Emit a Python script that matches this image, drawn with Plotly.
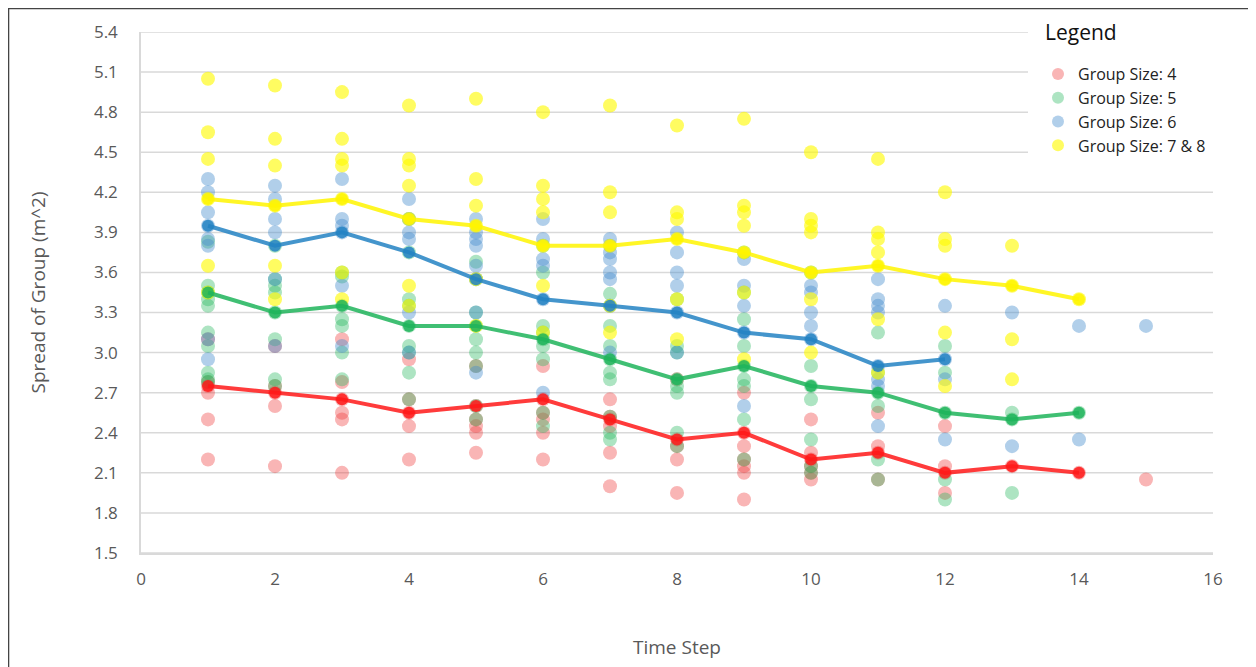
import plotly.graph_objects as go

# ---------------- data ----------------
time_steps = list(range(1, 16))

# scatter values per time step (index 0 -> time step 1)
red_pts = [
    [3.1, 2.78, 2.75, 2.7, 2.5, 2.2],
    [3.05, 2.75, 2.7, 2.6, 2.15],
    [3.1, 2.78, 2.65, 2.55, 2.5, 2.1],
    [2.95, 2.65, 2.55, 2.45, 2.2],
    [2.9, 2.6, 2.5, 2.45, 2.4, 2.25],
    [2.9, 2.65, 2.55, 2.5, 2.4, 2.2],
    [2.65, 2.52, 2.5, 2.45, 2.25, 2.0],
    [2.8, 2.35, 2.3, 2.2, 1.95],
    [2.7, 2.4, 2.3, 2.2, 2.15, 2.1, 1.9],
    [2.5, 2.25, 2.2, 2.15, 2.1, 2.05],
    [2.55, 2.3, 2.25, 2.05],
    [2.45, 2.15, 2.1, 1.95],
    [2.15],
    [2.1],
    [2.05],
]
green_pts = [
    [3.83, 3.5, 3.45, 3.4, 3.35, 3.15, 3.05, 2.85, 2.8, 2.78],
    [3.8, 3.55, 3.5, 3.45, 3.3, 3.1, 2.8, 2.75],
    [3.6, 3.57, 3.35, 3.25, 3.2, 3.0, 2.8],
    [4.0, 3.75, 3.4, 3.35, 3.2, 3.05, 3.0, 2.85, 2.65],
    [3.68, 3.55, 3.3, 3.2, 3.1, 3.0, 2.9, 2.6, 2.5],
    [3.8, 3.6, 3.2, 3.15, 3.1, 3.05, 2.95, 2.55, 2.45],
    [3.44, 3.35, 3.2, 3.05, 2.95, 2.85, 2.8, 2.52, 2.4, 2.35],
    [3.4, 3.05, 3.0, 2.8, 2.75, 2.7, 2.4, 2.3],
    [3.75, 3.45, 3.25, 3.05, 2.9, 2.8, 2.75, 2.5, 2.2],
    [3.6, 2.9, 2.75, 2.65, 2.35, 2.15, 2.1],
    [3.15, 2.85, 2.7, 2.6, 2.2, 2.05],
    [3.05, 2.85, 2.55, 2.05, 1.9],
    [2.55, 2.5, 1.95],
    [2.55],
    [],
]
blue_pts = [
    [4.3, 4.2, 4.05, 3.95, 3.85, 3.8, 3.1, 2.95],
    [4.25, 4.15, 4.0, 3.9, 3.55, 3.05],
    [4.3, 4.0, 3.95, 3.9, 3.5, 3.05],
    [4.15, 4.0, 3.9, 3.85, 3.3, 3.0],
    [4.0, 3.9, 3.85, 3.8, 3.65, 3.55, 3.3, 2.85],
    [4.0, 3.85, 3.7, 3.65, 3.4, 2.7],
    [3.85, 3.8, 3.75, 3.7, 3.6, 3.55, 3.35, 3.0],
    [3.9, 3.75, 3.6, 3.5, 3.3, 3.0],
    [3.7, 3.5, 3.35, 3.15, 2.6],
    [3.5, 3.45, 3.3, 3.2, 3.1],
    [3.55, 3.4, 3.35, 3.3, 2.9, 2.8, 2.75, 2.45],
    [3.35, 2.95, 2.8, 2.35],
    [3.3, 2.3],
    [3.2, 2.35],
    [3.2],
]
yellow_pts = [
    [5.05, 4.65, 4.45, 4.15, 3.65, 3.45],
    [5.0, 4.6, 4.4, 4.1, 3.65, 3.4],
    [4.95, 4.6, 4.45, 4.4, 4.15, 3.6, 3.4],
    [4.85, 4.45, 4.4, 4.25, 4.0, 3.5, 3.35],
    [4.9, 4.3, 4.1, 3.95, 3.55, 3.2],
    [4.8, 4.25, 4.15, 4.05, 3.8, 3.5, 3.15],
    [4.85, 4.2, 4.05, 3.8, 3.35, 3.15],
    [4.7, 4.05, 4.0, 3.85, 3.4, 3.1],
    [4.75, 4.1, 4.05, 3.95, 3.75, 3.45, 2.95],
    [4.5, 4.0, 3.95, 3.9, 3.6, 3.4, 3.0],
    [4.45, 3.9, 3.85, 3.75, 3.65, 3.25, 2.85],
    [4.2, 3.85, 3.8, 3.55, 3.15, 2.75],
    [3.8, 3.5, 3.1, 2.8],
    [3.4],
    [],
]

# mean lines
red_mean = [2.75, 2.7, 2.65, 2.55, 2.6, 2.65, 2.5, 2.35, 2.4, 2.2, 2.25, 2.1, 2.15, 2.1]
green_mean = [3.45, 3.3, 3.35, 3.2, 3.2, 3.1, 2.95, 2.8, 2.9, 2.75, 2.7, 2.55, 2.5, 2.55]
blue_mean = [3.95, 3.8, 3.9, 3.75, 3.55, 3.4, 3.35, 3.3, 3.15, 3.1, 2.9, 2.95]
yellow_mean = [4.15, 4.1, 4.15, 4.0, 3.95, 3.8, 3.8, 3.85, 3.75, 3.6, 3.65, 3.55, 3.5, 3.4]

series_names = ["Group Size: 4", "Group Size: 5", "Group Size: 6", "Group Size: 7 & 8"]
x_ticks = [0, 2, 4, 6, 8, 10, 12, 14, 16]
y_ticks = [1.5, 1.8, 2.1, 2.4, 2.7, 3.0, 3.3, 3.6, 3.9, 4.2, 4.5, 4.8, 5.1, 5.4]

# ---------------- figure ----------------
def flatten(pts):
    xs, ys = [], []
    for t, vals in zip(time_steps, pts):
        for v in vals:
            xs.append(t)
            ys.append(v)
    return xs, ys

point_colors = ["rgba(240,60,60,0.38)", "rgba(40,185,95,0.38)",
                "rgba(70,140,205,0.42)", "rgba(255,250,0,0.62)"]
line_colors = ["rgba(255,25,25,0.85)", "rgba(30,180,90,0.85)",
               "rgba(35,130,195,0.85)", "rgba(255,245,0,0.85)"]

fig = go.Figure()
for name, pts, pc in zip(series_names, [red_pts, green_pts, blue_pts, yellow_pts], point_colors):
    xs, ys = flatten(pts)
    fig.add_trace(go.Scatter(x=xs, y=ys, mode="markers", name=name,
                             marker=dict(size=14, color=pc, line=dict(width=0)),
                             hoverinfo="x+y"))

for means, lc in zip([red_mean, green_mean, blue_mean, yellow_mean], line_colors):
    fig.add_trace(go.Scatter(x=time_steps[:len(means)], y=means, mode="lines+markers",
                             line=dict(color=lc, width=4),
                             marker=dict(size=12, color=lc),
                             showlegend=False, hoverinfo="x+y"))

W, H = 1248, 659
L, R, T, B = 133, 43, 24, 114
pw, ph = W - L - R, H - T - B


def px_x(px):
    """page pixel -> paper x"""
    return (px - 8 - L) / pw


def px_y(py):
    """page pixel -> paper y"""
    return (T + ph - (py - 8)) / ph


fig.update_layout(
    width=W, height=H,
    paper_bgcolor="white", plot_bgcolor="white",
    margin=dict(l=L, r=R, t=T, b=B),
    font=dict(family="Open Sans, Noto Sans, sans-serif", color="#595959"),
    xaxis=dict(range=[0, 16], tickvals=x_ticks, showgrid=False, zeroline=False,
               showline=True, linecolor="#d9d9d9", linewidth=1.5,
               tickfont=dict(size=17, color="#595959"), ticks="", ticklabelstandoff=10,
               title=dict(text="Time Step", font=dict(size=19, color="#595959"), standoff=52)),
    yaxis=dict(range=[1.5, 5.4], tickvals=y_ticks, ticktext=[f"{v:.1f}" for v in y_ticks],
               showgrid=False, zeroline=False,
               showline=True, linecolor="#d9d9d9", linewidth=1.5,
               tickfont=dict(size=17, color="#595959"), ticks="", ticklabelstandoff=18,
               title=dict(text="Spread of Group (m^2)", font=dict(size=19, color="#595959"), standoff=43)),
    legend=dict(x=px_x(1038), y=px_y(57), xanchor="left", yanchor="top",
                bgcolor="rgba(255,255,255,0)", borderwidth=0,
                font=dict(size=16, color="#222222"),
                itemsizing="constant", tracegroupgap=0),
    showlegend=True,
)

# horizontal gridlines; those behind the legend panel stop at its left edge
legend_left = px_x(1028)
for v in y_ticks:
    fig.add_shape(type="line", xref="paper", yref="y",
                  x0=0, x1=legend_left if v >= 4.5 else 1, y0=v, y1=v,
                  line=dict(color="#d9d9d9", width=1.5), layer="below")

# legend heading
fig.add_annotation(text="Legend", xref="paper", yref="paper",
                   x=px_x(1043), y=px_y(32),
                   xanchor="left", yanchor="middle", showarrow=False,
                   font=dict(size=21, color="#111111"))

# outer frame of the picture
fig.add_shape(type="rect", xref="paper", yref="paper",
              x0=-L / pw + 0.0005, x1=(W - 7 - L) / pw,
              y0=-(B + 2) / ph, y1=(ph + T - 0.5) / ph,
              line=dict(color="#444444", width=1.5), fillcolor="rgba(0,0,0,0)", layer="above")

fig.write_html("out.html")
